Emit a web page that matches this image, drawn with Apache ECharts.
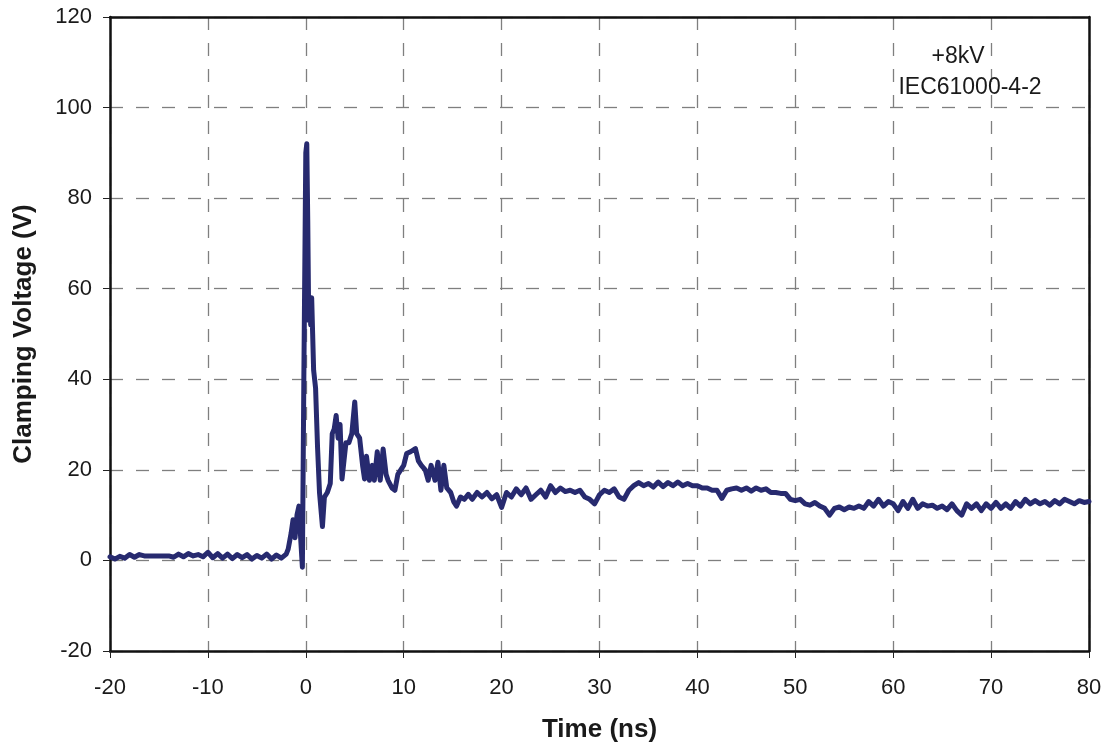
<!DOCTYPE html>
<html>
<head>
<meta charset="utf-8">
<script src="https://cdn.jsdelivr.net/npm/echarts@6/dist/echarts.min.js"></script>
<style>
html,body{margin:0;padding:0;background:#fff;}
#chart{width:1109px;height:749px;}
</style>
</head>
<body>
<div id="chart"></div>
<script>
// Time (ns)
const timeNs = [
-20,-19.5,-19,-18.5,-18,-17.5,-17,-16.5,-16,-15.5,-15,-14.5,-14,-13.5,-13,-12.5,-12,-11.5,-11,-10.5,-10,-9.5,-9,-8.5,-8,-7.5,-7,-6.5,-6,-5.5,-5,-4.5,-4,-3.5,-3,-2.5,-2,
-1.8,-1.5,-1.3,-1.1,-0.9,-0.7,-0.5,-0.35,-0.2,0,0.1,0.2,0.3,0.4,0.5,0.6,0.7,0.8,1.0,1.2,1.4,1.7,1.9,2.2,2.5,2.7,2.9,3.1,3.3,3.5,3.7,3.9,4.1,4.4,4.7,5.0,5.2,5.5,5.8,6.0,6.2,6.5,6.8,7.0,7.3,7.6,7.9,8.2,8.4,8.8,9.1,9.4,9.7,10.0,10.3,10.7,11.2,11.5,11.8,12.2,12.5,12.8,13.2,13.5,13.8,14.1,14.4,14.8,15.1,15.4,15.8,16.2,16.6,17,17.5,
18,18.5,19,19.5,20,20.5,21,21.5,22,22.5,23,23.5,24,24.5,25,25.5,26,26.5,27,27.5,28,28.5,29,29.5,30,30.5,31,31.5,32,32.5,33,33.5,34,34.5,35,35.5,36,36.5,37,37.5,38,38.5,39,39.5,40,40.5,41,41.5,42,42.5,43,43.5,44,44.5,45,45.5,46,46.5,47,47.5,48,48.5,49,49.5,50,50.5,51,51.5,52,52.5,53,53.5,54,54.5,55,55.5,56,56.5,57,57.5,58,58.5,59,59.5,60,60.5,61,61.5,62,62.5,63,63.5,64,64.5,65,65.5,66,66.5,67,67.5,68,68.5,69,69.5,70,70.5,71,71.5,72,72.5,73,73.5,74,74.5,75,75.5,76,76.5,77,77.5,78,78.5,79,79.5,80
];
// Clamping voltage (V)
const voltageV = [
0.8,0.3,0.9,0.5,1.3,0.7,1.3,1.0,1.0,1.0,1.0,1.0,1.0,0.7,1.4,0.8,1.5,1.0,1.3,0.8,1.8,0.6,1.5,0.5,1.4,0.4,1.3,0.6,1.3,0.3,1.1,0.5,1.4,0.3,1.2,0.5,1.4,
2.5,6,9,5,10,12,4,-1.5,40,90,92,75,53,58,52,58,50,42,38,25,15,7.5,14,15,17,28,29,32,27,30,18,22,26,26,28,35,28,27,21,18,23,17.7,21,17.7,24,17.7,24.6,19,17.7,16,15.5,19,20,21,23.6,24,24.7,22,21,20,17.7,21,17.7,21.7,15.5,21,16,15,13,12,14,13.5,14.6,13.5,15,
14,15,13.6,14.5,11.7,15,14,15.8,14.5,16,13.5,14.5,15.5,14,16.5,15,16,15.2,15.5,15,15.5,14,13.5,12.5,14.5,15.5,15,15.8,14,13.5,15.5,16.5,17.2,16.5,17,16.2,17.3,16.3,17.2,16.5,17.3,16.5,17,16.5,16.5,16,16,15.5,15.5,13.7,15.5,15.8,16,15.5,16,15.3,16,15.5,15.8,15,15,14.8,14.8,13.5,13.2,13.5,12.5,12.2,12.8,12,11.5,10,11.5,11.8,11.2,11.8,11.5,12,11.5,13,12,13.5,12,13,12.5,11,13,11.5,13.5,11.5,12.5,12,12.2,11.5,12,11.2,12.5,11,10,12.5,11.5,12.5,11,12.5,11.5,12.8,11.5,12.5,11.5,13,12,13.5,12.5,13.2,12.5,13,12.2,13.2,12.5,13.5,13,12.5,13.2,12.8,13
];
const xTicks = {min: -20, max: 80, step: 10};
const yTicks = {min: -20, max: 120, step: 20};
const annotation = ['+8kV', 'IEC61000-4-2'];

const seriesData = timeNs.map((t, i) => [t, voltageV[i]]);
const chart = echarts.init(document.getElementById('chart'));
const font = 'Liberation Sans, Arial, sans-serif';
const tick = {show: true, length: 7, lineStyle: {color: '#222', width: 1}};
const frameAxis = {show: true, onZero: false, lineStyle: {color: '#111', width: 2.5}};
chart.setOption({
  animation: false,
  backgroundColor: '#fff',
  grid: {left: 110, right: 20, top: 17, bottom: 98, show: false},
  xAxis: [{
    type: 'value', min: xTicks.min, max: xTicks.max, interval: xTicks.step,
    name: 'Time (ns)', nameLocation: 'middle', nameGap: 66,
    nameTextStyle: {fontFamily: font, fontSize: 26, fontWeight: 'bold', color: '#1a1a1a'},
    axisLine: frameAxis,
    axisTick: tick,
    axisLabel: {fontFamily: font, fontSize: 22, color: '#1a1a1a', margin: 26},
    splitLine: {show: true, lineStyle: {color: '#7f7f7f', type: [13, 13], width: 1.3}},
    z: 3
  }, {
    type: 'value', position: 'top', min: xTicks.min, max: xTicks.max, interval: xTicks.step,
    axisLine: frameAxis, axisTick: {show: false}, axisLabel: {show: false}, splitLine: {show: false}, z: 4
  }],
  yAxis: [{
    type: 'value', min: yTicks.min, max: yTicks.max, interval: yTicks.step,
    name: 'Clamping Voltage (V)', nameLocation: 'middle', nameGap: 73, nameRotate: 90,
    nameTextStyle: {fontFamily: font, fontSize: 26, fontWeight: 'bold', color: '#1a1a1a'},
    axisLine: frameAxis,
    axisTick: tick,
    axisLabel: {fontFamily: font, fontSize: 22, color: '#1a1a1a', margin: 18},
    splitLine: {show: true, lineStyle: {color: '#7f7f7f', type: [13, 13], width: 1.3}},
    z: 3
  }, {
    type: 'value', position: 'right', min: yTicks.min, max: yTicks.max, interval: yTicks.step,
    axisLine: frameAxis, axisTick: {show: false}, axisLabel: {show: false}, splitLine: {show: false}, z: 4
  }],
  series: [{
    type: 'line', data: seriesData, showSymbol: false, symbol: 'none',
    xAxisIndex: 0, yAxisIndex: 0,
    lineStyle: {color: '#272a6f', width: 5, join: 'round', cap: 'round'},
    z: 5
  }],
  graphic: [
    {type: 'text', x: 958, y: 57, z: 10, style: {text: annotation[0], fontFamily: font, fontSize: 23, fill: '#1a1a1a', align: 'center', verticalAlign: 'middle'}},
    {type: 'text', x: 970, y: 88, z: 10, style: {text: annotation[1], fontFamily: font, fontSize: 23, fill: '#1a1a1a', align: 'center', verticalAlign: 'middle'}}
  ]
});
</script>
</body>
</html>
